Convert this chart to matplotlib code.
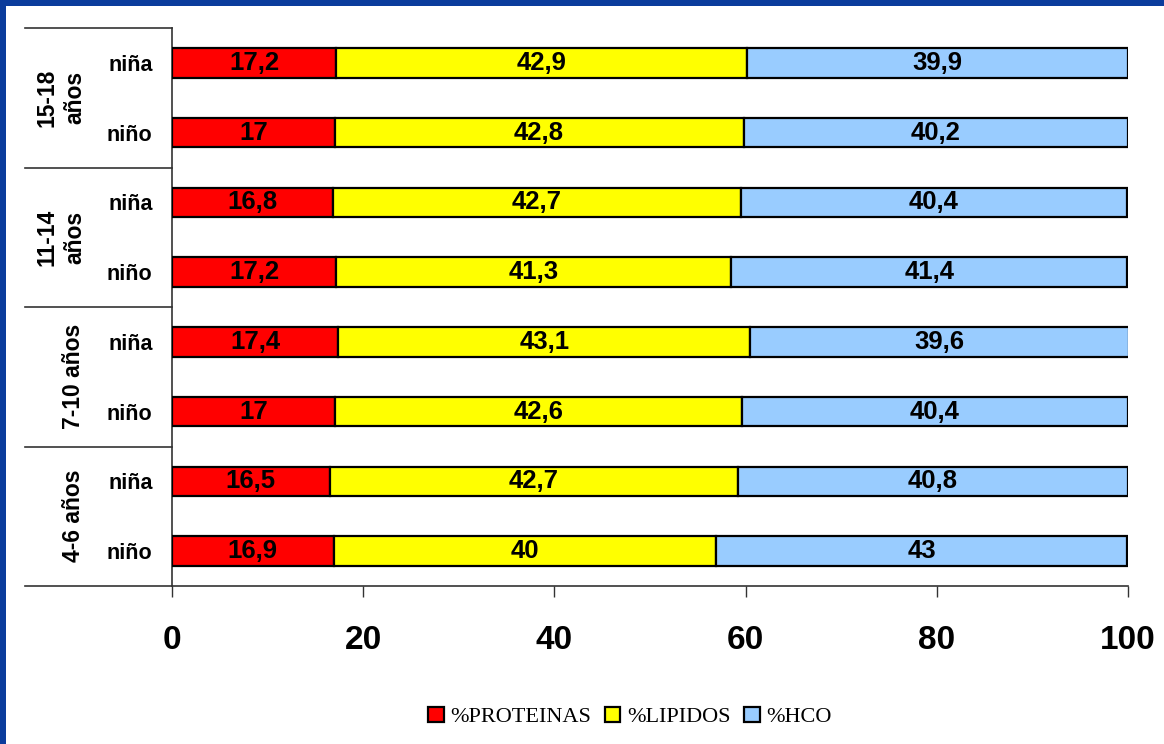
import matplotlib.pyplot as plt
from matplotlib.patches import Rectangle

plt.rcParams['font.family'] = ['Liberation Sans', 'DejaVu Sans']

# filas de abajo hacia arriba
grupos = ['4-6 años', '7-10 años', '11-14\naños', '15-18\naños']
sexos = ['niño', 'niña']
proteinas = [16.9, 16.5, 17, 17.4, 17.2, 16.8, 17, 17.2]
lipidos = [40, 42.7, 42.6, 43.1, 41.3, 42.7, 42.8, 42.9]
hco = [43, 40.8, 40.4, 39.6, 41.4, 40.4, 40.2, 39.9]

series = [('%PROTEINAS', proteinas, '#ff0000'),
          ('%LIPIDOS', lipidos, '#ffff00'),
          ('%HCO', hco, '#99ccff')]

fig = plt.figure(figsize=(11.64, 7.44), dpi=100, facecolor='#0b3c9c')
fig.add_artist(Rectangle((6 / 1164, 0), 1, 738 / 744, transform=fig.transFigure,
                         facecolor='white', edgecolor='none', zorder=-10))
ax = fig.add_axes([172 / 1164, 1 - 586 / 744, 956 / 1164, 558 / 744])
ax.set_facecolor('none')

filas = list(range(len(proteinas)))
izq = [0] * len(filas)
for nombre, vals, color in series:
    ax.barh(filas, vals, left=izq, height=0.42, color=color, edgecolor='black',
            linewidth=1.6, label=nombre, zorder=3)
    for y, v, l in zip(filas, vals, izq):
        ax.text(l + v / 2, y, f'{v:g}'.replace('.', ','), ha='center', va='center',
                fontsize=18.5, fontweight='bold', zorder=4)
    izq = [a + b for a, b in zip(izq, vals)]

ax.set_xlim(0, 100)
ax.set_ylim(-0.5, 7.5)
ax.set_xticks([0, 20, 40, 60, 80, 100])
ax.tick_params(axis='x', length=8, width=1, pad=20, labelsize=24, color='#333333')
for t in ax.get_xticklabels():
    t.set_fontweight('bold')
ax.set_yticks(filas)
ax.set_yticklabels(sexos * len(grupos), fontsize=15.5, fontweight='bold')
ax.tick_params(axis='y', length=0, pad=14)

for s in ['top', 'right']:
    ax.spines[s].set_visible(False)
for s in ['left', 'bottom']:
    ax.spines[s].set_color('#333333')
    ax.spines[s].set_linewidth(1.2)

# separadores de grupos y etiquetas de edad
x0 = -147 / 9.56
for k in range(len(grupos) + 1):
    ax.plot([x0, 0], [k * 2 - 0.5, k * 2 - 0.5], color='#333333', lw=1.2, clip_on=False)
for k, g in enumerate(grupos):
    xg = -98 / 9.56 if '\n' not in g else -111 / 9.56
    ax.text(xg, k * 2 + 0.5, g, rotation=90, ha='center', va='center', fontsize=16.5,
            fontweight='bold', linespacing=1.25, clip_on=False)

fig.legend(loc='center', bbox_to_anchor=(630 / 1164, 1 - 717 / 744), ncol=3,
           frameon=False, prop={'family': 'Liberation Serif', 'size': 16},
           handlelength=0.7, handleheight=0.7, handletextpad=0.3, columnspacing=0.6)

fig.savefig('out.png', dpi=100, facecolor=fig.get_facecolor())
